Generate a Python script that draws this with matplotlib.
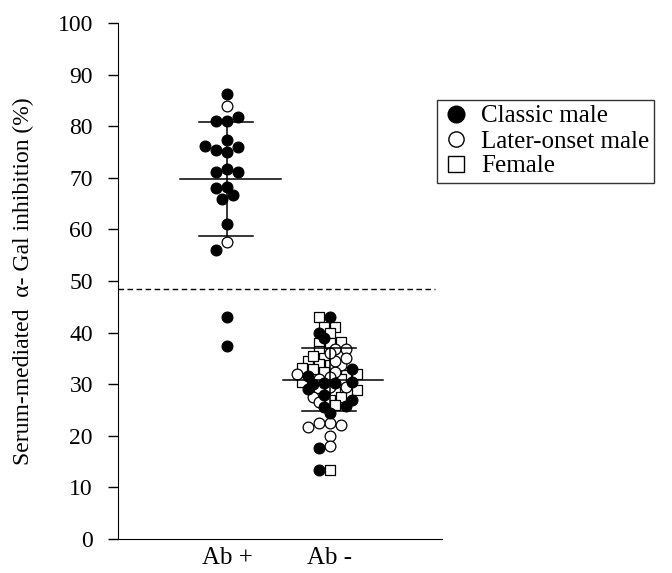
import numpy as np
import matplotlib
matplotlib.use("Agg")
import matplotlib.pyplot as plt
from matplotlib.lines import Line2D

plt.rcParams['font.family'] = ['Liberation Serif', 'DejaVu Serif']

# -----------------------------------------------------
# data

groups = ["Ab +", "Ab -"]

classic_pos = [86.2, 81.8, 81.0, 81.0, 77.3, 76.2, 75.3, 75.0, 75.9, 71.2,
               71.7, 71.2, 68.1, 68.3, 66.7, 65.9, 61.0, 56.1, 43.1, 37.4]
later_pos = [83.9, 57.6]
female_pos = []

classic_neg = [43.1, 40.0, 38.9, 30.5, 30.2, 30.3, 30.0, 29.0, 28.0, 26.9,
               25.6, 25.8, 24.4, 17.6, 13.4, 31.5, 33.0]
later_neg = [36.8, 36.8, 33.7, 32.4, 31.3, 31.1, 29.5, 29.4, 35.0, 34.5,
             27.5, 26.5, 22.4, 21.8, 22.0, 22.4, 20.0, 18.0, 36.0, 32.0]
female_neg = [43.1, 41.1, 41.0, 40.0, 37.9, 38.1, 37.9, 36.5, 35.0, 34.4,
              34.0, 33.7, 33.1, 33.0, 32.4, 32.0, 31.8, 31.0, 30.5, 29.2,
              28.9, 28.5, 27.6, 26.9, 26.0, 35.5, 13.4]

means = [69.8, 30.9]
sds = [11.1, 6.1]
cutoff = 48.5

# -----------------------------------------------------
# swarm placement (pixel space)

PX_X = 103.0   # px per x unit
PX_Y = 5.16    # px per y unit
STEP = 5.5     # px between columns


def swarm(values, min_d):
    order = np.argsort(np.abs(np.array(values) - np.median(values)))
    placed = []
    offs = [0.0] * len(values)
    for i in order:
        y = values[i] * PX_Y
        k = 0
        while True:
            cands = [0.0] if k == 0 else [-k * STEP, k * STEP]
            ok = None
            for c in cands:
                if all((c - px) ** 2 + (y - py) ** 2 >= min_d ** 2 for px, py in placed):
                    ok = c
                    break
            if ok is not None:
                placed.append((ok, y))
                offs[i] = ok / PX_X
                break
            k += 1
    return offs


fig = plt.figure(figsize=(6.72, 5.73), dpi=100)
ax = fig.add_axes([118 / 672, 34 / 573, 324 / 672, 516 / 573])

sets = [(classic_pos, later_pos, female_pos), (classic_neg, later_neg, female_neg)]
spacing = [9.5, 6.8]
for gi, (cl, lo, fe) in enumerate(sets):
    xc = gi + 1
    vals = fe + lo + cl
    offs = swarm(vals, spacing[gi])
    nf, nl = len(fe), len(lo)
    xs = xc + np.array(offs)
    ax.scatter(xs[:nf], fe, marker='s', s=62, facecolor='white', edgecolor='black', lw=0.9, zorder=3)
    ax.scatter(xs[nf:nf + nl], lo, marker='o', s=60, facecolor='white', edgecolor='black', lw=0.9, zorder=4)
    ax.scatter(xs[nf + nl:], cl, marker='o', s=60, facecolor='black', edgecolor='black', lw=0.9, zorder=5)

    m, sd = means[gi], sds[gi]
    ax.plot([xc - 0.46, xc + 0.52], [m, m], color='black', lw=1.1, zorder=6)
    ax.plot([xc - 0.27, xc + 0.25], [m + sd, m + sd], color='black', lw=1.1, zorder=6)
    ax.plot([xc - 0.27, xc + 0.25], [m - sd, m - sd], color='black', lw=1.1, zorder=6)
    ax.plot([xc, xc], [m - sd, m + sd], color='black', lw=1.1, zorder=6)

ax.axhline(cutoff, xmin=0, xmax=0.978, color='black', lw=1, ls=(0, (4, 2.5)), zorder=2)

ax.set_xlim(-0.06, 3.09)
ax.set_ylim(0, 100)
ax.set_yticks(range(0, 101, 10))
ax.set_xticks([1, 2])
ax.set_xticklabels(groups, fontsize=18)
ax.tick_params(axis='x', length=0, pad=6)
ax.tick_params(axis='y', direction='out', length=7, width=1, labelsize=17, pad=11)
ax.spines['top'].set_visible(False)
ax.spines['right'].set_visible(False)
ax.set_ylabel("Serum-mediated  α- Gal inhibition (%)", fontsize=17, labelpad=17)

handles = [
    Line2D([], [], marker='o', ls='none', markersize=12, markerfacecolor='black', markeredgecolor='black'),
    Line2D([], [], marker='o', ls='none', markersize=11, markerfacecolor='white', markeredgecolor='black'),
    Line2D([], [], marker='s', ls='none', markersize=11, markerfacecolor='white', markeredgecolor='black'),
]
leg = fig.legend(handles, ["Classic male", "Later-onset male", "Female"],
                 loc='upper left', bbox_to_anchor=(437 / 672, 1 - 100 / 573),
                 fontsize=18, frameon=True, fancybox=False, borderpad=0.2,
                 handletextpad=0.45, labelspacing=0.1, handlelength=1.1, borderaxespad=0)
leg.get_frame().set_edgecolor('black')
leg.get_frame().set_linewidth(1)

fig.savefig("out.png", dpi=100)
